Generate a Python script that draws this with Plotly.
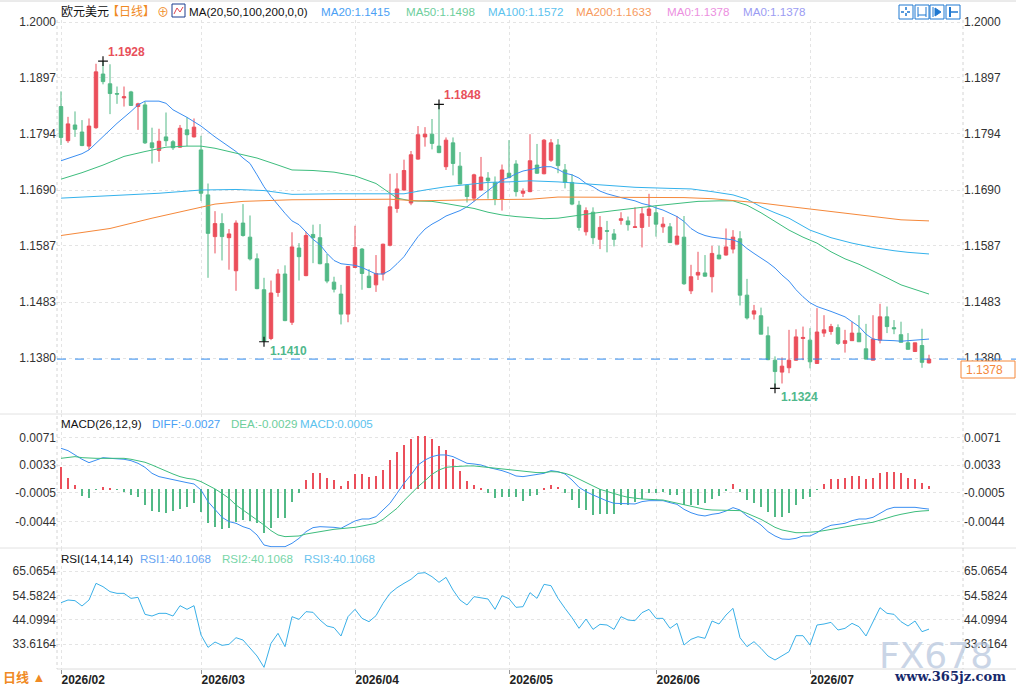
import pandas as pd
import plotly.graph_objects as go
from plotly.subplots import make_subplots

# trading days shown (Mon-Fri)
dates = pd.bdate_range("2026-02-02", "2026-07-24")

open_ = [
    1.1844, 1.1781, 1.1810, 1.1797, 1.1771, 1.1805, 1.1904, 1.1886, 1.1868, 1.1860,
    1.1871, 1.1844, 1.1847, 1.1777, 1.1763, 1.1788, 1.1779, 1.1769, 1.1801, 1.1788,
    1.1764, 1.1681, 1.1604, 1.1628, 1.1602, 1.1541, 1.1629, 1.1603, 1.1563, 1.1506,
    1.1416, 1.1501, 1.1535, 1.1446, 1.1583, 1.1532, 1.1608, 1.1602, 1.1554, 1.1520,
    1.1498, 1.1461, 1.1547, 1.1581, 1.1531, 1.1515, 1.1535, 1.1588, 1.1656, 1.1690,
    1.1666, 1.1747, 1.1788, 1.1793, 1.1771, 1.1733, 1.1777, 1.1734, 1.1699, 1.1675,
    1.1690, 1.1712, 1.1704, 1.1673, 1.1721, 1.1738, 1.1684, 1.1687, 1.1736, 1.1720,
    1.1745, 1.1773, 1.1727, 1.1704, 1.1662, 1.1613, 1.1649, 1.1599, 1.1615, 1.1609,
    1.1634, 1.1633, 1.1621, 1.1621, 1.1643, 1.1648, 1.1622, 1.1622, 1.1590, 1.1603,
    1.1504, 1.1533, 1.1537, 1.1530, 1.1570, 1.1570, 1.1581, 1.1600, 1.1496, 1.1461,
    1.1458, 1.1421, 1.1376, 1.1354, 1.1362, 1.1376, 1.1416, 1.1413, 1.1370, 1.1426,
    1.1429, 1.1436, 1.1407, 1.1412, 1.1426, 1.1397, 1.1376, 1.1413, 1.1456, 1.1436,
    1.1423, 1.1408, 1.1392, 1.1403, 1.1371]
high = [
    1.1872, 1.1825, 1.1835, 1.1819, 1.1822, 1.1923, 1.1928, 1.1922, 1.1881, 1.1881,
    1.1873, 1.1851, 1.1853, 1.1805, 1.1803, 1.1833, 1.1782, 1.1810, 1.1824, 1.1822,
    1.1790, 1.1702, 1.1651, 1.1647, 1.1618, 1.1634, 1.1664, 1.1643, 1.1573, 1.1528,
    1.1523, 1.1544, 1.1551, 1.1612, 1.1592, 1.1613, 1.1626, 1.1627, 1.1572, 1.1530,
    1.1515, 1.1549, 1.1624, 1.1583, 1.1544, 1.1570, 1.1591, 1.1720, 1.1721, 1.1746,
    1.1762, 1.1808, 1.1806, 1.1821, 1.1848, 1.1787, 1.1787, 1.1760, 1.1700, 1.1720,
    1.1751, 1.1723, 1.1715, 1.1737, 1.1782, 1.1745, 1.1693, 1.1793, 1.1775, 1.1784,
    1.1784, 1.1784, 1.1738, 1.1719, 1.1670, 1.1658, 1.1658, 1.1642, 1.1633, 1.1618,
    1.1649, 1.1641, 1.1658, 1.1658, 1.1683, 1.1661, 1.1640, 1.1629, 1.1642, 1.1642,
    1.1552, 1.1576, 1.1570, 1.1587, 1.1587, 1.1619, 1.1616, 1.1614, 1.1526, 1.1478,
    1.1473, 1.1438, 1.1383, 1.1381, 1.1432, 1.1433, 1.1438, 1.1435, 1.1472, 1.1459,
    1.1443, 1.1442, 1.1432, 1.1447, 1.1459, 1.1443, 1.1459, 1.1480, 1.1475, 1.1450,
    1.1447, 1.1426, 1.1408, 1.1434, 1.1386]
low = [
    1.1773, 1.1777, 1.1788, 1.1771, 1.1764, 1.1803, 1.1885, 1.1830, 1.1849, 1.1844,
    1.1845, 1.1801, 1.1775, 1.1739, 1.1742, 1.1771, 1.1764, 1.1768, 1.1771, 1.1787,
    1.1670, 1.1528, 1.1573, 1.1560, 1.1543, 1.1504, 1.1604, 1.1560, 1.1507, 1.1410,
    1.1413, 1.1493, 1.1448, 1.1441, 1.1523, 1.1531, 1.1555, 1.1553, 1.1518, 1.1501,
    1.1442, 1.1446, 1.1546, 1.1506, 1.1509, 1.1502, 1.1523, 1.1586, 1.1648, 1.1689,
    1.1662, 1.1746, 1.1770, 1.1765, 1.1758, 1.1727, 1.1717, 1.1701, 1.1667, 1.1669,
    1.1689, 1.1674, 1.1662, 1.1652, 1.1713, 1.1678, 1.1677, 1.1686, 1.1720, 1.1719,
    1.1742, 1.1721, 1.1693, 1.1662, 1.1615, 1.1606, 1.1590, 1.1581, 1.1575, 1.1586,
    1.1626, 1.1615, 1.1620, 1.1584, 1.1622, 1.1604, 1.1611, 1.1593, 1.1590, 1.1515,
    1.1498, 1.1524, 1.1530, 1.1501, 1.1562, 1.1569, 1.1573, 1.1477, 1.1451, 1.1451,
    1.1424, 1.1376, 1.1324, 1.1333, 1.1352, 1.1375, 1.1376, 1.1361, 1.1369, 1.1419,
    1.1423, 1.1404, 1.1390, 1.1412, 1.1410, 1.1377, 1.1376, 1.1407, 1.1426, 1.1424,
    1.1409, 1.1396, 1.1391, 1.1362, 1.1370]
close = [
    1.1787, 1.1812, 1.1802, 1.1772, 1.1808, 1.1908, 1.1890, 1.1868, 1.1867, 1.1862,
    1.1846, 1.1849, 1.1777, 1.1768, 1.1780, 1.1781, 1.1768, 1.1804, 1.1792, 1.1806,
    1.1684, 1.1610, 1.1628, 1.1604, 1.1609, 1.1629, 1.1606, 1.1563, 1.1508, 1.1411,
    1.1500, 1.1535, 1.1449, 1.1585, 1.1567, 1.1606, 1.1602, 1.1554, 1.1522, 1.1507,
    1.1461, 1.1549, 1.1584, 1.1536, 1.1510, 1.1536, 1.1590, 1.1659, 1.1692, 1.1726,
    1.1755, 1.1792, 1.1793, 1.1776, 1.1759, 1.1782, 1.1739, 1.1701, 1.1678, 1.1718,
    1.1714, 1.1707, 1.1673, 1.1727, 1.1713, 1.1687, 1.1688, 1.1744, 1.1721, 1.1782,
    1.1777, 1.1735, 1.1704, 1.1664, 1.1621, 1.1652, 1.1602, 1.1621, 1.1614, 1.1599,
    1.1637, 1.1626, 1.1622, 1.1646, 1.1655, 1.1627, 1.1627, 1.1593, 1.1605, 1.1517,
    1.1530, 1.1538, 1.1531, 1.1573, 1.1563, 1.1585, 1.1603, 1.1496, 1.1454, 1.1467,
    1.1424, 1.1377, 1.1355, 1.1365, 1.1376, 1.1419, 1.1418, 1.1373, 1.1428, 1.1432,
    1.1438, 1.1407, 1.1412, 1.1426, 1.1410, 1.1378, 1.1415, 1.1456, 1.1438, 1.1434,
    1.1409, 1.1396, 1.1408, 1.1372, 1.1378]

# moving averages (candle index, value)
ma20_idx = [0, 3, 4, 6, 8, 10, 11, 12, 14, 15, 16, 18, 20, 22, 24, 25, 26, 27, 28, 29,
            30, 31, 32, 33, 34, 36, 37, 38, 39, 40] + list(range(42, 125))
ma20_val = [
    1.1744, 1.1757, 1.1764, 1.1788, 1.1813, 1.1835, 1.1847, 1.1854, 1.1854, 1.1850,
    1.1838, 1.1824, 1.1808, 1.1788, 1.1771, 1.1761, 1.1749, 1.1739, 1.1718, 1.1696,
    1.1678, 1.1662, 1.1647, 1.1633, 1.1626, 1.1599, 1.1589, 1.1573, 1.1560, 1.1554,
    1.1551, 1.1547, 1.1541, 1.1535, 1.1535, 1.1542, 1.1554, 1.1567, 1.1586, 1.1604,
    1.1618, 1.1627, 1.1634, 1.1642, 1.1647, 1.1652, 1.1659, 1.1669, 1.1678, 1.1688,
    1.1699, 1.1709, 1.1713, 1.1720, 1.1725, 1.1728, 1.1730, 1.1733, 1.1733, 1.1728,
    1.1721, 1.1718, 1.1712, 1.1702, 1.1696, 1.1688, 1.1683, 1.1679, 1.1676, 1.1673,
    1.1670, 1.1665, 1.1662, 1.1657, 1.1653, 1.1647, 1.1641, 1.1632, 1.1619, 1.1611,
    1.1606, 1.1603, 1.1601, 1.1600, 1.1598, 1.1593, 1.1582, 1.1573, 1.1565, 1.1556,
    1.1546, 1.1533, 1.1522, 1.1506, 1.1493, 1.1482, 1.1475, 1.1471, 1.1466, 1.1461,
    1.1456, 1.1447, 1.1438, 1.1424, 1.1415, 1.1413, 1.1413, 1.1412, 1.1411, 1.1412,
    1.1413, 1.1413, 1.1415]
ma50_idx = [0, 3, 6, 9, 12, 15, 18, 20, 22, 25, 28, 31, 33, 36, 39, 42, 45, 47, 48, 50,
            53, 55, 57, 59, 61, 63, 65, 67, 69, 71, 73, 76, 79, 82, 85, 88, 91, 94, 96, 98,
            100, 102, 104, 106, 108, 110, 112, 114, 116, 118, 120, 122, 124]
ma50_val = [
    1.1710, 1.1722, 1.1736, 1.1752, 1.1761, 1.1769, 1.1771, 1.1771, 1.1767, 1.1758,
    1.1749, 1.1736, 1.1727, 1.1726, 1.1723, 1.1716, 1.1702, 1.1684, 1.1675, 1.1670,
    1.1669, 1.1665, 1.1661, 1.1656, 1.1649, 1.1644, 1.1641, 1.1639, 1.1637, 1.1638,
    1.1642, 1.1647, 1.1652, 1.1657, 1.1661, 1.1665, 1.1669, 1.1670, 1.1670, 1.1662,
    1.1648, 1.1632, 1.1616, 1.1603, 1.1592, 1.1576, 1.1563, 1.1553, 1.1541, 1.1528,
    1.1515, 1.1506, 1.1498]
ma100_idx = [0, 7, 14, 20, 25, 29, 33, 39, 45, 49, 52, 55, 58, 61, 64, 67, 71, 74, 78, 82,
             87, 90, 93, 96, 98, 100, 102, 104, 107, 110, 113, 116, 119, 121, 124]
ma100_val = [
    1.1675, 1.1680, 1.1684, 1.1690, 1.1691, 1.1689, 1.1682, 1.1683, 1.1683, 1.1683,
    1.1690, 1.1696, 1.1700, 1.1704, 1.1705, 1.1707, 1.1705, 1.1702, 1.1699, 1.1695,
    1.1693, 1.1692, 1.1687, 1.1681, 1.1673, 1.1659, 1.1648, 1.1638, 1.1616, 1.1602,
    1.1592, 1.1584, 1.1578, 1.1575, 1.1572]
ma200_idx = [0, 7, 13, 19, 22, 26, 30, 33, 47, 51, 59, 67, 71, 81, 89, 93, 97, 100, 105, 110,
             115, 120, 124]
ma200_val = [
    1.1606, 1.1619, 1.1638, 1.1656, 1.1664, 1.1669, 1.1670, 1.1672, 1.1673, 1.1670,
    1.1672, 1.1673, 1.1677, 1.1677, 1.1676, 1.1674, 1.1670, 1.1666, 1.1658, 1.1650,
    1.1642, 1.1635, 1.1633]

diff = [
    0.00560, 0.00528, 0.00469, 0.00410, 0.00364, 0.00400, 0.00432, 0.00423, 0.00419, 0.00410,
    0.00391, 0.00355, 0.00300, 0.00218, 0.00173, 0.00150, 0.00127, 0.00114, 0.00091, 0.00073,
    -0.00009, -0.00168, -0.00282, -0.00382, -0.00441, -0.00464, -0.00510, -0.00541, -0.00623, -0.00760,
    -0.00783, -0.00783, -0.00783, -0.00737, -0.00669, -0.00578, -0.00523, -0.00510, -0.00510, -0.00519,
    -0.00532, -0.00487, -0.00432, -0.00405, -0.00405, -0.00373, -0.00282, -0.00191, -0.00055, 0.00082,
    0.00196, 0.00332, 0.00400, 0.00446, 0.00469, 0.00469, 0.00446, 0.00400, 0.00355, 0.00346,
    0.00332, 0.00300, 0.00278, 0.00255, 0.00223, 0.00182, 0.00173, 0.00187, 0.00196, 0.00218,
    0.00255, 0.00241, 0.00209, 0.00127, 0.00027, -0.00032, -0.00077, -0.00123, -0.00159, -0.00191,
    -0.00191, -0.00200, -0.00200, -0.00168, -0.00155, -0.00155, -0.00155, -0.00182, -0.00205, -0.00273,
    -0.00319, -0.00350, -0.00364, -0.00341, -0.00328, -0.00296, -0.00250, -0.00282, -0.00364, -0.00419,
    -0.00487, -0.00578, -0.00637, -0.00678, -0.00683, -0.00669, -0.00637, -0.00637, -0.00592, -0.00532,
    -0.00491, -0.00478, -0.00464, -0.00428, -0.00405, -0.00405, -0.00382, -0.00328, -0.00273, -0.00246,
    -0.00246, -0.00246, -0.00246, -0.00259, -0.00270]
dea = [
    0.00423, 0.00437, 0.00446, 0.00432, 0.00423, 0.00423, 0.00423, 0.00423, 0.00423, 0.00423,
    0.00410, 0.00387, 0.00369, 0.00332, 0.00287, 0.00250, 0.00209, 0.00173, 0.00150, 0.00137,
    0.00105, 0.00059, 0.00005, -0.00055, -0.00123, -0.00214, -0.00282, -0.00350, -0.00410, -0.00487,
    -0.00564, -0.00623, -0.00646, -0.00646, -0.00637, -0.00610, -0.00592, -0.00578, -0.00564, -0.00546,
    -0.00537, -0.00532, -0.00519, -0.00501, -0.00487, -0.00464, -0.00410, -0.00337, -0.00259, -0.00155,
    -0.00055, 0.00036, 0.00118, 0.00205, 0.00264, 0.00300, 0.00309, 0.00319, 0.00319, 0.00319,
    0.00309, 0.00300, 0.00287, 0.00278, 0.00264, 0.00250, 0.00241, 0.00232, 0.00228, 0.00228,
    0.00241, 0.00237, 0.00218, 0.00187, 0.00137, 0.00091, 0.00046, 0.00000, -0.00032, -0.00055,
    -0.00086, -0.00109, -0.00123, -0.00132, -0.00137, -0.00137, -0.00146, -0.00168, -0.00191, -0.00214,
    -0.00237, -0.00259, -0.00273, -0.00282, -0.00282, -0.00282, -0.00282, -0.00291, -0.00328, -0.00364,
    -0.00410, -0.00464, -0.00519, -0.00555, -0.00578, -0.00592, -0.00592, -0.00587, -0.00578, -0.00564,
    -0.00546, -0.00532, -0.00510, -0.00496, -0.00478, -0.00464, -0.00450, -0.00419, -0.00387, -0.00364,
    -0.00341, -0.00319, -0.00305, -0.00296, -0.00290]
macd_hist = [
    0.00309, 0.00159, 0.00055, -0.00091, -0.00114, -0.00009, 0.00027, 0.00014, -0.00009, -0.00032,
    -0.00077, -0.00100, -0.00214, -0.00291, -0.00305, -0.00319, -0.00291, -0.00268, -0.00237, -0.00191,
    -0.00305, -0.00464, -0.00519, -0.00546, -0.00532, -0.00441, -0.00419, -0.00428, -0.00464, -0.00601,
    -0.00532, -0.00396, -0.00387, -0.00168, -0.00046, 0.00127, 0.00218, 0.00218, 0.00159, 0.00123,
    0.00046, 0.00109, 0.00205, 0.00205, 0.00168, 0.00182, 0.00259, 0.00396, 0.00510, 0.00605,
    0.00683, 0.00728, 0.00728, 0.00683, 0.00592, 0.00537, 0.00410, 0.00250, 0.00114, 0.00055,
    0.00009, -0.00046, -0.00114, -0.00100, -0.00109, -0.00109, -0.00155, -0.00086, -0.00077, 0.00023,
    0.00059, 0.00036, -0.00046, -0.00146, -0.00259, -0.00282, -0.00350, -0.00337, -0.00337, -0.00337,
    -0.00214, -0.00214, -0.00168, -0.00137, -0.00055, -0.00046, -0.00032, -0.00077, -0.00077, -0.00214,
    -0.00214, -0.00214, -0.00191, -0.00137, -0.00086, -0.00023, 0.00073, -0.00032, -0.00146, -0.00182,
    -0.00237, -0.00305, -0.00373, -0.00373, -0.00319, -0.00214, -0.00137, -0.00109, -0.00009, 0.00073,
    0.00137, 0.00137, 0.00159, 0.00182, 0.00182, 0.00141, 0.00159, 0.00228, 0.00241, 0.00241,
    0.00218, 0.00159, 0.00141, 0.00091, 0.00050]
rsi = [
    51.46, 52.61, 52.32, 50.03, 52.61, 59.77, 58.34, 56.19, 55.47, 55.47,
    53.32, 53.75, 46.45, 45.73, 46.88, 46.88, 45.73, 50.17, 48.60, 50.17,
    37.57, 32.27, 34.56, 33.13, 33.56, 36.42, 35.42, 32.13, 28.55, 23.68,
    33.99, 38.29, 32.56, 45.45, 44.30, 47.60, 47.31, 44.01, 41.44, 40.72,
    37.14, 45.45, 48.60, 44.73, 43.30, 45.88, 51.17, 55.47, 57.90, 59.77,
    61.49, 64.06, 64.35, 62.63, 60.20, 62.34, 56.90, 52.61, 50.46, 54.04,
    53.61, 53.04, 48.60, 54.47, 53.18, 49.46, 49.74, 55.76, 53.32, 59.34,
    58.76, 53.32, 49.03, 45.02, 40.44, 44.44, 40.00, 42.15, 41.87, 40.00,
    45.45, 44.01, 43.73, 47.17, 48.60, 44.73, 44.73, 40.44, 42.58, 33.27,
    35.71, 36.85, 36.14, 43.59, 42.30, 46.16, 49.03, 36.42, 32.56, 34.71,
    31.84, 28.55, 26.83, 28.55, 30.41, 37.28, 37.28, 33.27, 41.87, 42.30,
    43.01, 39.72, 40.44, 42.58, 41.15, 37.14, 43.59, 49.31, 46.88, 46.45,
    43.30, 41.44, 43.59, 39.00, 40.1068]

main_ticks = [1.2000, 1.1897, 1.1794, 1.1690, 1.1587, 1.1483, 1.1380]
macd_ticks = [0.0071, 0.0033, -0.0005, -0.0044]
rsi_ticks = [65.0654, 54.5824, 44.0994, 33.6164]

# candles carrying a high / low label
mark_high = [6, 54]
mark_low = [29, 102]

RED = "#eb4f5b"
GREEN = "#52b986"
FONT = "Liberation Sans, Arial, Noto Sans CJK SC, sans-serif"

# page geometry (pixels)
W, H = 1016, 686
L, R, T, B = 57, 963, 20, 669


def px(x):
    return (x - L) / (R - L)


def py(y):
    return (B - y) / (B - T)


xs = list(range(len(dates)))
month_pos = [i for i in xs if i == 0 or dates[i].month != dates[i - 1].month]
month_txt = ["<b>%s</b>" % dates[i].strftime("%Y/%m") for i in month_pos]

fig = make_subplots(rows=3, cols=1, shared_xaxes=True, vertical_spacing=0,
                    specs=[[{"secondary_y": True}]] * 3)

fig.add_trace(go.Candlestick(
    x=xs, open=open_, high=high, low=low, close=close,
    increasing=dict(line=dict(color=RED, width=1), fillcolor=RED),
    decreasing=dict(line=dict(color=GREEN, width=1), fillcolor=GREEN),
    showlegend=False), row=1, col=1)

for ix, val, col in [(ma20_idx, ma20_val, "#3a8ef2"), (ma50_idx, ma50_val, "#3dbd7d"),
                     (ma100_idx, ma100_val, "#34b2ec"), (ma200_idx, ma200_val, "#f5883a")]:
    fig.add_trace(go.Scatter(x=ix, y=val, mode="lines", line=dict(color=col, width=1),
                             showlegend=False), row=1, col=1)

fig.add_trace(go.Scatter(
    x=mark_high + mark_low, y=[high[i] for i in mark_high] + [low[i] for i in mark_low],
    mode="markers", marker=dict(symbol="cross-thin", size=7, line=dict(color="#111", width=1.2)),
    showlegend=False), row=1, col=1)

fig.add_trace(go.Bar(x=xs, y=macd_hist, width=0.2,
                     marker=dict(color=[RED if v >= 0 else GREEN for v in macd_hist], line_width=0),
                     showlegend=False), row=2, col=1)
fig.add_trace(go.Scatter(x=xs, y=diff, mode="lines", line=dict(color="#3a8ef2", width=1),
                         showlegend=False), row=2, col=1)
fig.add_trace(go.Scatter(x=xs, y=dea, mode="lines", line=dict(color="#3dbd7d", width=1),
                         showlegend=False), row=2, col=1)

fig.add_trace(go.Scatter(x=xs, y=rsi, mode="lines", line=dict(color="#3ab0e8", width=1),
                         showlegend=False), row=3, col=1)

# secondary axes need a trace to be drawn
ranges = [[1.12767, 1.20037], [-0.00801, 0.01028], [22.97, 74.95]]
tick_sets = [main_ticks, macd_ticks, rsi_ticks]
for r in range(3):
    fig.add_trace(go.Scatter(x=[xs[0]], y=[tick_sets[r][0]], mode="markers",
                             marker=dict(opacity=0), hoverinfo="skip", showlegend=False),
                  row=r + 1, col=1, secondary_y=True)

domains = [[py(414), 1.0], [py(548), py(414)], [0.0, py(548)]]
for r in range(3):
    tv = tick_sets[r]
    common = dict(range=ranges[r], domain=domains[r], tickvals=tv, ticktext=["%.4f" % v for v in tv],
                  tickfont=dict(size=12, color="#333", family=FONT), ticks="",
                  zeroline=False, showline=False, fixedrange=True, automargin=False)
    fig.update_yaxes(row=r + 1, col=1, secondary_y=False, showgrid=True,
                     gridcolor="#e4e4e4", griddash="dot", **common)
    fig.update_yaxes(row=r + 1, col=1, secondary_y=True, showgrid=False, **common)
    fig.update_xaxes(row=r + 1, col=1, domain=[0, 1], range=[(L - 61) / 7, (R - 61) / 7],
                     tickvals=month_pos, ticktext=month_txt, showgrid=True,
                     gridcolor="#e4e4e4", griddash="dot", zeroline=False, showline=False,
                     rangeslider_visible=False, showticklabels=(r == 2), automargin=False)

fig.update_xaxes(row=3, col=1, ticks="outside", ticklen=4, tickcolor="#999",
                 ticklabelposition="outside right",
                 tickfont=dict(size=12, color="#222", family=FONT))

shapes = []


def hline(y, x0, x1, color, dash="solid", width=1):
    shapes.append(dict(type="line", xref="paper", yref="paper", x0=px(x0), x1=px(x1),
                       y0=py(y), y1=py(y), line=dict(color=color, width=width, dash=dash)))


def vline(x, y0, y1, color, dash="solid", width=1):
    shapes.append(dict(type="line", xref="paper", yref="paper", x0=px(x), x1=px(x),
                       y0=py(y0), y1=py(y1), line=dict(color=color, width=width, dash=dash)))


def rect(x0, y0, x1, y1, color, fill="white"):
    shapes.append(dict(type="rect", xref="paper", yref="paper", x0=px(x0), x1=px(x1),
                       y0=py(y1), y1=py(y0), line=dict(color=color, width=1), fillcolor=fill))


hline(1, 0, 1016, "#d6d6d6")
hline(414, 0, 1016, "#e2e2e2")
hline(548, 0, 1016, "#e2e2e2")
hline(669, 57, 1016, "#dcdcdc")
vline(57, 20, 669, "#d4d4d4", "dot")
vline(963, 20, 669, "#d4d4d4", "dot")

# current price line and tag
last = close[-1]
shapes.append(dict(type="line", xref="paper", yref="y", x0=0, x1=px(1016), y0=last, y1=last,
                   line=dict(color="#2f8cf0", width=1, dash="dash")))
rect(961, 361, 1015, 378, "#f5883a")

# toolbar icons
for x0 in [899, 915, 930, 946]:
    rect(x0, 5, x0 + 14, 19, "#1f78d1")
hline(12, 901, 911, "#1f78d1", "dot", 1.5)
vline(906, 7, 17, "#1f78d1", "dot", 1.5)
vline(918, 7, 17, "#1f78d1")
vline(926, 7, 17, "#1f78d1")
hline(15, 918, 926, "#1f78d1")
vline(933, 7, 17, "#1f78d1")
shapes.append(dict(type="path", xref="paper", yref="paper",
                   path="M %f %f L %f %f L %f %f Z" % (px(935), py(8), px(941), py(12), px(935), py(16)),
                   fillcolor="#1f78d1", line=dict(color="#1f78d1", width=1)))
vline(950, 7, 17, "#1f78d1", width=2)
hline(12, 951, 958, "#1f78d1", width=1.5)
# MA icon
rect(172, 4, 185, 17, "#1a3d8f")
shapes.append(dict(type="path", xref="paper", yref="paper",
                   path="M %f %f L %f %f L %f %f L %f %f" % (px(174), py(14), px(177), py(8),
                                                          px(180), py(12), px(183), py(7)),
                   line=dict(color="#e0454f", width=1)))

annotations = []


def text(t, x, y, color, size=11.6, bold=False, anchor="left", family=FONT):
    if bold:
        t = "<b>%s</b>" % t
    annotations.append(dict(text=t, xref="paper", yref="paper", x=px(x), y=py(y),
                            xanchor=anchor, yanchor="middle", showarrow=False,
                            font=dict(size=size, color=color, family=family)))


# header of price panel
text("欧元美元", 59, 12, "#111", size=12)
text("【日线】", 105, 12, "#f08a24", size=12)
text("⊕", 155, 13, "#f08a24", size=12)
text("MA(20,50,100,200,0,0)", 187, 12, "#111")
text("MA20:%.4f" % ma20_val[-1], 319, 12, "#4a9ff5")
text("MA50:%.4f" % ma50_val[-1], 404, 12, "#6dce9c")
text("MA100:%.4f" % ma100_val[-1], 486, 12, "#5bc2ee")
text("MA200:%.4f" % ma200_val[-1], 574, 12, "#f79a5c")
text("MA0:%.4f" % last, 665, 12, "#ec8fe0")
text("MA0:%.4f" % last, 741, 12, "#9b9cf3")

text("MACD(26,12,9)", 59, 423, "#111")
text("DIFF:%.4f" % diff[-1], 150, 423, "#4a9ff5")
text("DEA:%.4f" % dea[-1], 229, 423, "#6dce9c")
text("MACD:%.4f" % macd_hist[-1], 298, 423, "#5bc2ee")

text("RSI(14,14,14)", 59, 558, "#111")
text("RSI1:%.4f" % rsi[-1], 138, 558, "#6aa6f2")
text("RSI2:%.4f" % rsi[-1], 220, 558, "#78d6a8")
text("RSI3:%.4f" % rsi[-1], 302, 558, "#6cc4ee")

text("%.4f" % last, 964, 369.5, "#f5883a", size=12)
text("日线 ▲", 1, 677, "#f08a24", size=13, bold=True)

# watermark
text("FX678", 936, 655, "rgba(185,200,222,0.75)", size=36, anchor="center",
     family="DejaVu Sans, sans-serif")
text("www.365jz.com", 950, 676, "#17296b", size=13, bold=True, anchor="center",
     family="DejaVu Serif, serif")

# high / low labels
for i in mark_high:
    annotations.append(dict(text="<b>%.4f</b>" % high[i], x=i, y=high[i], xref="x", yref="y",
                            xanchor="left", yanchor="bottom", xshift=3, yshift=0,
                            showarrow=False, font=dict(size=12, color="#e8505b", family=FONT)))
for i in mark_low:
    annotations.append(dict(text="<b>%.4f</b>" % low[i], x=i, y=low[i], xref="x", yref="y",
                            xanchor="left", yanchor="top", xshift=4, yshift=0,
                            showarrow=False, font=dict(size=12, color="#4fb88c", family=FONT)))

fig.update_layout(
    width=W, height=H,
    margin=dict(l=L, r=W - R, t=T, b=H - B, autoexpand=False),
    paper_bgcolor="white", plot_bgcolor="white",
    font=dict(family=FONT, size=12, color="#333"),
    bargap=0, showlegend=False, hovermode=False,
    shapes=shapes, annotations=annotations,
)

# the page's default body margin would shift the 1016x686 figure
fig.write_html("out.html", config={"displayModeBar": False},
               post_script="document.body.style.margin='0';document.body.style.padding='0';")
